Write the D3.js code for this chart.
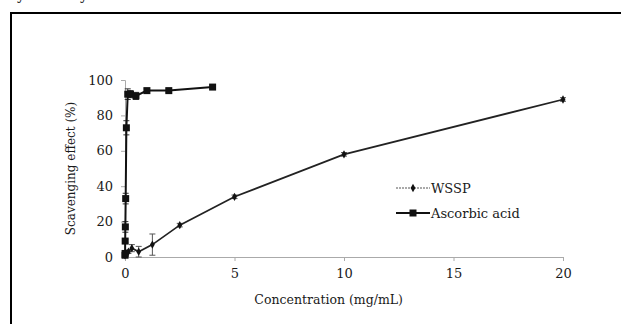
<!DOCTYPE html>
<html>
<head>
<meta charset="utf-8">
<script src="https://cdn.jsdelivr.net/npm/d3@7"></script>
<style>
  body { margin: 0; background: #fff; }
  svg { display: block; }
  text { font-family: "DejaVu Serif", "Liberation Serif", serif; fill: #1a1a1a; }
</style>
</head>
<body>
<svg id="chart"></svg>
<script>
// data
const wsspX = [0, 0.156, 0.3125, 0.625, 1.25, 2.5, 5, 10, 20];
const wsspY = [1, 3, 5, 3, 7, 18, 34, 58, 89];
const wsspErr = [1, 1, 2, 3, 6, 1, 1, 1, 1];

const ascX = [0.002, 0.004, 0.008, 0.016, 0.031, 0.0625, 0.125, 0.25, 0.5, 1, 2, 4];
const ascY = [1, 2, 9, 17, 33, 73, 92, 92, 91, 94, 94, 96];
const ascErr = [1, 1, 1, 3, 3, 4, 3, 2, 2, 1, 1, 1];

const xTicks = [0, 5, 10, 15, 20];
const yTicks = [0, 20, 40, 60, 80, 100];

const W = 621, H = 324;
const margin = { top: 80, right: 58, bottom: 67, left: 125 },
  width = W - margin.left - margin.right,
  height = H - margin.top - margin.bottom;

const root = d3.select("#chart").attr("width", W).attr("height", H);

// frame around the figure
root.append("rect")
  .attr("x", 11).attr("y", 13)
  .attr("width", 640).attr("height", 340)
  .attr("fill", "none").attr("stroke", "#000").attr("stroke-width", 2);

// bits of caption cut off at the top
root.append("text").attr("x", 17).attr("y", 0).attr("font-size", 14).text("y");
root.append("text").attr("x", 80).attr("y", 0).attr("font-size", 14).text("y");

const svg = root.append("g")
  .attr("transform", `translate(${margin.left}, ${margin.top})`);

const x = d3.scaleLinear().domain([0, 20]).range([0, width]);
const y = d3.scaleLinear().domain([0, 100]).range([height, 0]);

// axes
const xAxis = svg.append("g")
  .attr("transform", `translate(0, ${height})`)
  .call(d3.axisBottom(x).tickValues(xTicks).tickSize(4).tickPadding(8));
const yAxis = svg.append("g")
  .call(d3.axisLeft(y).tickValues(yTicks).tickSize(4).tickPadding(8));

[xAxis, yAxis].forEach(a => {
  a.select(".domain").attr("stroke", "#aaa");
  a.selectAll(".tick line").attr("stroke", "#aaa");
  a.selectAll("text")
    .attr("font-family", "DejaVu Serif, serif")
    .attr("font-size", 13).attr("fill", "#1a1a1a");
});

svg.append("text")
  .attr("x", x(9.3)).attr("y", height + 47)
  .attr("text-anchor", "middle").attr("font-size", 12.5)
  .text("Concentration (mg/mL)");

svg.append("text")
  .attr("transform", `translate(-50, ${y(50)}) rotate(-90)`)
  .attr("text-anchor", "middle").attr("font-size", 12)
  .text("Scavenging effect (%)");

const line = d3.line()
  .x(d => x(d[0]))
  .y(d => y(d[1]));

function errorBars(xs, ys, es, color) {
  const g = svg.append("g").attr("stroke", color).attr("stroke-width", 1);
  xs.forEach((v, i) => {
    const cx = x(v);
    g.append("line")
      .attr("x1", cx).attr("x2", cx)
      .attr("y1", y(Math.max(0, ys[i] - es[i]))).attr("y2", y(ys[i] + es[i]));
    [ys[i] + es[i], Math.max(0, ys[i] - es[i])].forEach(e => {
      g.append("line")
        .attr("x1", cx - 3).attr("x2", cx + 3)
        .attr("y1", y(e)).attr("y2", y(e));
    });
  });
}

// WSSP
const wssp = wsspX.map((v, i) => [v, wsspY[i]]);
errorBars(wsspX, wsspY, wsspErr, "#555");
svg.append("path")
  .datum(wssp)
  .attr("fill", "none").attr("stroke", "#222").attr("stroke-width", 1.7)
  .attr("d", line);
svg.selectAll(".wssp-pt")
  .data(wssp)
  .enter().append("path")
  .attr("class", "wssp-pt")
  .attr("transform", d => `translate(${x(d[0])}, ${y(d[1])})`)
  .attr("d", d3.symbol(d3.symbolDiamond, 20))
  .attr("fill", "#111");

// Ascorbic acid
const asc = ascX.map((v, i) => [v, ascY[i]]);
errorBars(ascX, ascY, ascErr, "#333");
svg.append("path")
  .datum(asc)
  .attr("fill", "none").attr("stroke", "#111").attr("stroke-width", 2)
  .attr("d", line);
svg.selectAll(".asc-pt")
  .data(asc)
  .enter().append("rect")
  .attr("class", "asc-pt")
  .attr("x", d => x(d[0]) - 3.5).attr("y", d => y(d[1]) - 3.5)
  .attr("width", 7).attr("height", 7)
  .attr("fill", "#111");

// legend
const leg = svg.append("g").attr("transform", `translate(${396 - margin.left}, ${188 - margin.top})`);
leg.append("line").attr("x1", 0).attr("x2", 34).attr("y1", 0).attr("y2", 0)
  .attr("stroke", "#555").attr("stroke-width", 1).attr("stroke-dasharray", "2,1");
leg.append("path").attr("transform", "translate(17,0)")
  .attr("d", d3.symbol(d3.symbolDiamond, 20)).attr("fill", "#111");
leg.append("text").attr("x", 35).attr("y", 5).attr("font-size", 13).text("WSSP");

leg.append("line").attr("x1", 0).attr("x2", 34).attr("y1", 25).attr("y2", 25)
  .attr("stroke", "#111").attr("stroke-width", 2);
leg.append("rect").attr("x", 13.5).attr("y", 21.5).attr("width", 7).attr("height", 7).attr("fill", "#111");
leg.append("text").attr("x", 35).attr("y", 30).attr("font-size", 13).text("Ascorbic acid");
</script>
</body>
</html>
